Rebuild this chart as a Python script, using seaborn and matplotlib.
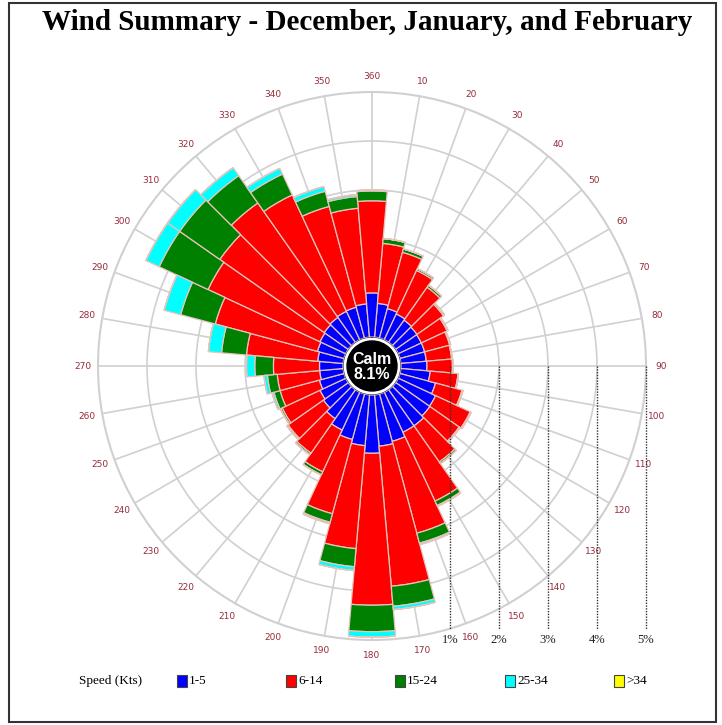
import numpy as np
import pandas as pd
import seaborn as sns
import matplotlib.pyplot as plt
from matplotlib.patches import Circle, Rectangle
from matplotlib.lines import Line2D

# wind directions (deg) and percent frequency per speed class
directions = list(range(10, 361, 10))
speed_1_5 = [0.69, 0.62, 0.58, 0.55, 0.53, 0.52, 0.52, 0.52, 0.53, 0.60, 0.75, 0.84,
             0.85, 0.90, 0.90, 1.00, 1.05, 1.19, 1.04, 0.96, 0.85, 0.72, 0.62, 0.58,
             0.52, 0.48, 0.48, 0.52, 0.56, 0.58, 0.60, 0.62, 0.64, 0.65, 0.68, 0.90]
speed_6_14 = [1.23, 1.19, 0.98, 0.82, 0.66, 0.58, 0.53, 0.52, 0.52, 0.57, 0.56, 0.78,
              0.73, 0.90, 1.55, 1.94, 2.87, 3.10, 2.11, 1.57, 0.94, 0.86, 0.88, 0.85,
              0.83, 0.87, 0.94, 1.46, 2.16, 2.52, 2.60, 2.85, 2.62, 2.13, 1.96, 1.88]
speed_15_24 = [0.10, 0.07, 0.04, 0.05, 0.03, 0.02, 0.02, 0.01, 0.01, 0.01, 0.02, 0.02,
               0.02, 0.04, 0.10, 0.21, 0.41, 0.54, 0.37, 0.18, 0.07, 0.04, 0.03, 0.04,
               0.13, 0.20, 0.38, 0.51, 0.73, 1.10, 1.00, 0.68, 0.47, 0.32, 0.24, 0.20]
speed_25_34 = [0, 0, 0, 0, 0, 0, 0, 0, 0, 0, 0, 0,
               0, 0, 0.02, 0.03, 0.07, 0.11, 0.08, 0.03, 0, 0, 0, 0,
               0.04, 0.07, 0.17, 0.27, 0.35, 0.30, 0.30, 0.20, 0.13, 0.10, 0.04, 0.02]
speed_34_up = [0] * 36
calm_pct = 8.1

classes = ["1-5", "6-14", "15-24", "25-34", ">34"]
colors = ["#0000ff", "#ff0000", "#008000", "#00ffff", "#ffff00"]
pct_ticks = [1, 2, 3, 4, 5]

df = pd.DataFrame({"dir": directions, "1-5": speed_1_5, "6-14": speed_6_14,
                   "15-24": speed_15_24, "25-34": speed_25_34, ">34": speed_34_up})

sns.set_style("white")
plt.rcParams["font.family"] = ["DejaVu Sans"]

W, H = 722, 725
fig = plt.figure(figsize=(W / 100, H / 100), dpi=100)

# polar axes: centre (372, 366) px, outer radius 274 px
cx, cy, R = 372, 366, 274
ax = fig.add_axes([(cx - R) / W, (H - cy - R) / H, 2 * R / W, 2 * R / H], projection="polar")
ax.set_theta_zero_location("N")
ax.set_theta_direction(-1)
ax.set_ylim(0, 5)
ax.set_rorigin(-29 / 49)
ax.set_yticks([1, 2, 3, 4])
ax.set_yticklabels([])
ax.set_xticks(np.radians(np.arange(0, 360, 10)))
ax.set_xticklabels([])
ax.tick_params(length=0)
ax.grid(color="#d0d0d0", lw=1.2)
ax.spines["polar"].set_color("#d0d0d0")
ax.spines["polar"].set_linewidth(1.5)
ax.set_axisbelow(True)

theta = np.radians(df["dir"])
bottom = np.zeros(len(df))
pal = sns.color_palette(colors)
for cls, col in zip(classes, pal):
    ax.bar(theta, df[cls], width=np.radians(10), bottom=bottom, color=col,
           edgecolor="#e4c4bc", linewidth=0.9, zorder=3)
    bottom = bottom + df[cls].values

# calm circle
ax.add_artist(Circle((0.5, 0.5), 25 / (2 * R), transform=ax.transAxes,
                     color="black", zorder=6, clip_on=False))
ax.text(0.5, 0.5 - 1 / (2 * R), f"Calm\n{calm_pct}%", transform=ax.transAxes,
        ha="center", va="center", color="white", fontsize=11.5, fontweight="bold",
        family="Liberation Sans", linespacing=1.05, zorder=7)

# direction labels
for d in directions:
    ax.text(np.radians(d), 5.31, str(d), ha="center", va="center",
            fontsize=6.5, color="#962c3a", zorder=7)

# percent markers: dotted drop lines from the 90 deg axis
to_fig = fig.transFigure.inverted()
for p in pct_ticks:
    xd, yd = ax.transData.transform((np.radians(90), p))
    xf, yf = to_fig.transform((xd, yd))
    fig.lines.append(Line2D([xf, xf], [yf, (H - 630) / H], transform=fig.transFigure,
                            color="#333333", lw=1.0, ls=(0, (1, 1))))
    fig.text(xf, (H - 640) / H, f"{p}%", ha="center", va="center", fontsize=9,
             family="Liberation Serif", color="#222222")

# title
fig.text(367 / W, (H - 22) / H, "Wind Summary - December, January, and February",
         ha="center", va="center", fontsize=21, fontweight="bold",
         family="Liberation Serif", color="black")

# legend row
ly = (H - 681) / H
fig.text(79 / W, ly, "Speed (Kts)", ha="left", va="center", fontsize=9.5,
         family="Liberation Serif", color="black")
leg_x = [177, 286, 395, 505, 614]
for x0, cls, col in zip(leg_x, classes, colors):
    fig.patches.append(Rectangle((x0 / W, (H - 687) / H), 10 / W, 12 / H,
                                 transform=fig.transFigure, facecolor=col,
                                 edgecolor="#444444", lw=0.8))
    fig.text((x0 + 12) / W, ly, cls, ha="left", va="center", fontsize=9.5,
             family="Liberation Serif", color="black")

# outer frame
fig.patches.append(Rectangle((9 / W, 3 / H), (716 - 9) / W, (722 - 3) / H,
                             transform=fig.transFigure, fill=False,
                             edgecolor="#333333", lw=1.5))

fig.savefig("out.png", dpi=100)
